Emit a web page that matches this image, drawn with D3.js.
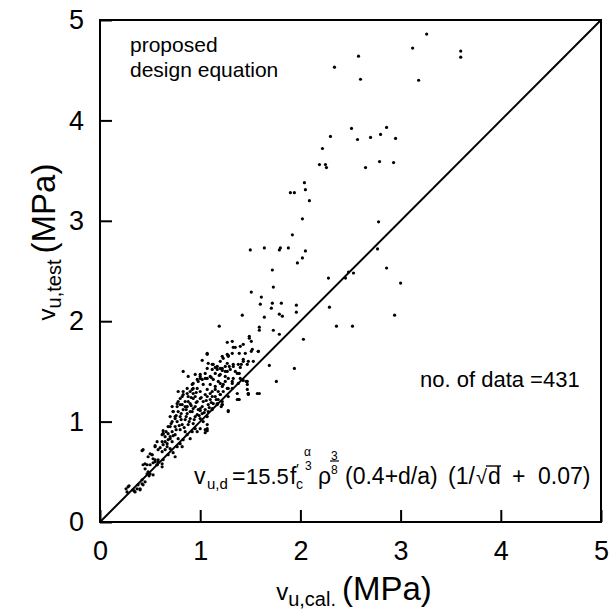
<!DOCTYPE html>
<html>
<head>
<meta charset="utf-8">
<script src="https://cdn.jsdelivr.net/npm/d3@7"></script>
<style>
  body { margin: 0; background: #fff; }
  svg { display: block; }
</style>
</head>
<body>
<div id="chart"></div>
<script>
const xTicks = [0, 1, 2, 3, 4, 5];
const yTicks = [0, 1, 2, 3, 4, 5];

// [v_u,cal , v_u,test] in MPa
const points = [
  [3.26,4.86],[3.12,4.72],[3.60,4.69],[3.60,4.63],[3.18,4.40],[2.58,4.64],[2.34,4.53],[2.60,4.41],
  [2.51,3.92],[2.86,3.93],[2.30,3.84],[2.57,3.81],[2.70,3.83],[2.80,3.86],[2.95,3.82],[2.22,3.72],
  [2.19,3.56],[2.25,3.56],[2.26,3.53],[2.65,3.53],[2.79,3.59],[2.93,3.58],
  [2.04,3.38],[2.05,3.31],[1.90,3.28],[1.94,3.28],[2.09,3.20],[2.02,3.02],[2.78,2.99],[1.92,2.86],
  [2.05,2.70],[2.02,2.63],[1.97,2.58],[2.77,2.72],[2.86,2.53],[3.00,2.38],[2.48,2.49],[2.53,2.48],
  [2.45,2.43],[2.28,2.43],[1.96,2.16],[1.96,2.09],[2.29,2.14],[2.94,2.06],[2.36,1.95],[2.52,1.95],
  [2.03,1.82],[1.50,2.71],[1.64,2.73],[1.79,2.71],[1.80,2.73],[1.88,2.73],
  [1.72,2.51],[1.73,2.34],[1.51,2.29],[1.61,2.24],[1.60,2.17],[1.72,2.18],[1.81,2.18],[1.71,2.13],
  [1.42,2.06],[1.79,2.07],[1.82,2.05],[1.64,2.04],[1.19,1.95],[1.59,1.94],[1.59,1.91],[1.73,1.91],
  [1.79,1.87],[1.49,1.85],[1.51,1.80],[1.49,1.83],[1.27,1.79],[1.32,1.80],[1.43,1.77],[1.33,1.74],
  [1.35,1.74],[1.40,1.75],[1.58,1.70],[1.51,1.70],[1.39,1.68],[1.45,1.68],[1.27,1.67],[1.28,1.66],
  [1.07,1.68],[1.23,1.63],[1.02,1.61],[1.43,1.60],[1.48,1.60],[1.41,1.57],[1.40,1.54],[1.29,1.55],
  [1.33,1.55],[1.25,1.55],[1.69,1.56],[1.94,1.53],[1.12,1.57],[1.15,1.54],[1.17,1.52],[1.20,1.53],
  [1.22,1.51],[1.35,1.50],[1.27,1.50],[1.39,1.48],[1.19,1.46],[1.25,1.45],[1.33,1.43],[1.07,1.43],
  [1.11,1.44],[1.00,1.43],[1.02,1.42],[1.43,1.41],[1.46,1.40],[1.76,1.40],[1.20,1.38],[1.23,1.37],
  [1.47,1.37],[1.32,1.33],[1.28,1.33],[1.48,1.28],[1.48,1.27],[1.59,1.28],[1.37,1.28],[1.20,1.27],
  [1.39,1.22],[1.28,1.25],[1.22,1.17],[1.21,1.15],[1.28,1.11],[1.05,0.92],[1.05,0.89],[1.07,0.97],
  // dense band
  [0.26,0.33],[0.29,0.36],[0.34,0.31],[0.37,0.33],[0.40,0.33],[0.43,0.37],[0.42,0.42],[0.47,0.48],
  [0.49,0.46],[0.45,0.53],[0.43,0.57],[0.50,0.57],[0.53,0.59],[0.43,0.72],[0.48,0.65],[0.52,0.67],
  [0.55,0.62],[0.58,0.60],[0.57,0.57],[0.62,0.58],[0.63,0.62],[0.50,0.68],[0.55,0.75],[0.60,0.74],
  [0.62,0.80],[0.57,0.80],[0.67,0.78],[0.65,0.72],[0.70,0.73],[0.68,0.67],[0.73,0.69],[0.75,0.65],
  [0.63,0.88],[0.65,0.85],[0.70,0.83],[0.72,0.90],[0.75,0.87],[0.78,0.83],[0.80,0.78],[0.82,0.75],
  [0.77,0.75],[0.83,0.82],[0.87,0.87],[0.90,0.83],[0.85,0.90],[0.80,0.92],[0.75,0.95],[0.70,0.95],
  [0.77,1.00],[0.82,0.97],[0.85,1.02],[0.80,1.05],[0.90,1.03],[0.88,0.97],[0.93,0.98],[0.95,0.93],
  [0.97,0.90],[1.00,0.93],[0.92,0.90],[0.87,1.08],[0.92,1.10],[0.83,1.12],[0.78,1.10],[0.75,1.05],
  [0.73,1.10],[0.72,1.15],[0.77,1.18],[0.82,1.17],[0.87,1.15],[0.90,1.18],[0.95,1.15],[0.97,1.07],
  [1.00,1.03],[1.03,1.00],[1.02,1.08],[1.07,1.05],[1.05,1.12],[1.00,1.13],[0.97,1.20],[0.93,1.23],
  [0.88,1.25],[0.83,1.27],[0.80,1.23],[0.78,1.30],[1.00,1.23],[1.03,1.20],[1.08,1.17],[1.12,1.13],
  [1.07,1.25],[1.10,1.22],[1.13,1.18],[1.17,1.17],[1.15,1.25],[1.18,1.22],[1.20,1.27],[1.00,1.30],
  [0.97,1.33],[0.92,1.32],[0.87,1.33],[0.93,1.38],[0.98,1.40],[1.03,1.37],[1.07,1.32],[1.12,1.30],
  [1.10,1.37],[1.15,1.35],[1.13,1.42],[1.18,1.40],[1.22,1.35],[1.23,1.30],[1.27,1.33],[1.25,1.40],
  [1.28,1.43],[1.32,1.38],[1.20,1.47],[1.15,1.48],[1.10,1.45],[1.05,1.43],[1.00,1.47],[0.95,1.47],
  [0.88,1.45],[0.83,1.50],[1.07,1.53],[1.12,1.52],[1.17,1.55],[1.22,1.53],[1.25,1.50],[1.30,1.52],
  [1.33,1.57],[1.37,1.48],[1.40,1.43],[1.38,1.57],[1.27,1.58],[1.20,1.60],[1.13,1.57],[1.08,1.58],
  [1.07,1.67],[1.22,1.65],[1.28,1.65],[1.32,1.68],[1.43,1.62],[1.47,1.57],[1.53,1.60],[1.52,1.72],
  [1.58,1.70],[1.38,1.22],[1.47,1.40],[1.48,1.28],[1.57,1.28],[1.28,1.10],[1.22,1.17],[1.07,0.93],
  [1.07,0.91],[0.62,0.55],[0.53,0.47],
  [1.00,1.45],[1.05,1.48],[0.97,1.42],[0.92,1.37],[0.93,1.33],[0.83,1.30],[0.87,1.28],[0.82,1.25],
  [0.78,1.20],[0.80,1.17],[0.77,1.15],[0.73,1.10],[0.70,1.05],[0.75,1.03],[0.72,1.00],[0.68,0.95],
  [0.63,0.91],[0.93,1.13],[1.00,1.11],[1.08,1.10],[1.12,1.12],[1.17,1.18],[1.22,1.20],[1.37,1.22],
  [1.47,1.32],[1.32,1.40],[1.38,1.38],
  [0.42,0.71],[0.55,0.76],[0.45,0.58],[0.47,0.57],[0.52,0.67],[0.53,0.63],[0.55,0.60],[0.57,0.57],
  [0.58,0.62],[0.48,0.50],[0.50,0.48],[0.45,0.40],[0.42,0.38],[0.38,0.37],[0.40,0.32],[0.28,0.35],
  [0.27,0.30],[0.33,0.32],[0.35,0.30],[0.58,0.72],[0.62,0.70],[0.63,0.77],[0.65,0.80],[0.67,0.75],
  [0.62,0.87],[0.63,0.88],[0.68,0.88],[0.70,0.85],[0.72,0.80],
  [0.85,1.20],[0.90,1.10],[0.95,1.05],[1.02,1.15],[1.10,1.28],[0.95,1.25],[0.90,1.30],[0.85,1.15],
  [0.98,1.12],[1.05,1.27],[1.12,1.25],[0.88,1.20],[0.93,1.28],[1.15,1.32],[1.18,1.30],[0.86,1.05],
  [0.76,0.92],[0.79,0.96],[0.84,0.94],[0.89,1.00],[0.94,1.02],[0.99,1.06],[1.04,1.09],[1.09,1.14],
  [0.81,1.08],[0.86,1.12],[0.91,1.16],[0.96,1.19],[1.01,1.24],[1.06,1.21],[1.11,1.19],[1.16,1.22],
  [0.68,0.82],[0.73,0.86],[0.66,0.90],[0.71,0.98],[0.76,1.06],[0.81,1.02],[0.91,1.24],[0.96,1.29]
];

const W = 614, H = 609;
const svg = d3.select("#chart").append("svg")
  .attr("width", W)
  .attr("height", H)
  .attr("viewBox", [0, 0, W, H]);

const x = d3.scaleLinear().domain([0, 5]).range([100, 601]);
const y = d3.scaleLinear().domain([0, 5]).range([522, 20]);

// axes, ticks pointing inwards
svg.append("g")
  .attr("transform", `translate(0,${y(0)})`)
  .call(d3.axisBottom(x).tickValues(xTicks).tickSize(-12).tickPadding(19).tickFormat(d3.format("d")))
  .call(g => g.select(".domain").remove())
  .call(g => g.selectAll("line").attr("stroke", "#000").attr("stroke-width", 2))
  .attr("font-family", "Liberation Sans, Arial, sans-serif")
  .attr("font-size", 27);

svg.append("g")
  .attr("transform", `translate(${x(0)},0)`)
  .call(d3.axisLeft(y).tickValues(yTicks).tickSize(-12).tickPadding(16).tickFormat(d3.format("d")))
  .call(g => g.select(".domain").remove())
  .call(g => g.selectAll("line").attr("stroke", "#000").attr("stroke-width", 2))
  .attr("font-family", "Liberation Sans, Arial, sans-serif")
  .attr("font-size", 27);

// frame
svg.append("rect")
  .attr("x", x(0)).attr("y", y(5))
  .attr("width", x(5) - x(0)).attr("height", y(0) - y(5))
  .attr("fill", "none").attr("stroke", "#000").attr("stroke-width", 2);

// line of equality
svg.append("line")
  .attr("x1", x(0)).attr("y1", y(0))
  .attr("x2", x(5)).attr("y2", y(5))
  .attr("stroke", "#000").attr("stroke-width", 2);

svg.append("g")
  .selectAll("circle")
  .data(points)
  .join("circle")
    .attr("cx", d => x(d[0]))
    .attr("cy", d => y(d[1]))
    .attr("r", 1.6)
    .attr("fill", "#000");

// text
const font = "Liberation Sans, Arial, sans-serif";
function put(px, py, str, size, anchor) {
  return svg.append("text")
    .attr("x", px).attr("y", py)
    .attr("font-family", font)
    .attr("font-size", size)
    .attr("text-anchor", anchor || "start")
    .text(str);
}

put(130, 52, "proposed", 21);
put(130, 77, "design equation", 21);
put(420, 387, "no. of data =431", 22);

// equation
const eb = 484;
put(194, eb, "v", 23);
put(207, eb + 5, "u,d", 15);
put(232, eb, "=", 23);
put(246, eb, "15.5", 22);
put(290, eb, "f", 23);
put(296, eb - 10, "\u2032", 15);
put(296, eb + 5, "c", 14);
put(304, eb - 28, "\u03b1", 12);
put(305, eb - 14, "3", 12);
put(318, eb, "\u03c1", 23);
put(331, eb - 24, "3", 12);
svg.append("line").attr("x1", 330).attr("x2", 339).attr("y1", eb - 23).attr("y2", eb - 23)
  .attr("stroke", "#000").attr("stroke-width", 1.2);
put(331, eb - 10, "8", 12);
put(345, eb, "(0.4+d/a)", 23);
put(448, eb, "(1/", 23);
put(476, eb, "\u221a", 20);
put(488, eb, "d", 23);
svg.append("line").attr("x1", 486).attr("x2", 501).attr("y1", eb - 18).attr("y2", eb - 18)
  .attr("stroke", "#000").attr("stroke-width", 1.4);
put(512, eb, "+", 23);
put(538, eb, "0.07)", 23);

// axis titles
const xt = svg.append("text")
  .attr("x", 354).attr("y", 600)
  .attr("text-anchor", "middle")
  .attr("font-family", font);
xt.append("tspan").attr("font-size", 24).text("v");
xt.append("tspan").attr("font-size", 20).attr("dy", 6).text("u,cal.");
xt.append("tspan").attr("font-size", 33).attr("dy", -6).attr("dx", 6).text("(MPa)");

const yt = svg.append("text")
  .attr("transform", "translate(55,242) rotate(-90)")
  .attr("text-anchor", "middle")
  .attr("font-family", font);
yt.append("tspan").attr("font-size", 24).text("v");
yt.append("tspan").attr("font-size", 20).attr("dy", 6).text("u,test");
yt.append("tspan").attr("font-size", 33).attr("dy", -6).attr("dx", 6).text("(MPa)");
</script>
</body>
</html>
